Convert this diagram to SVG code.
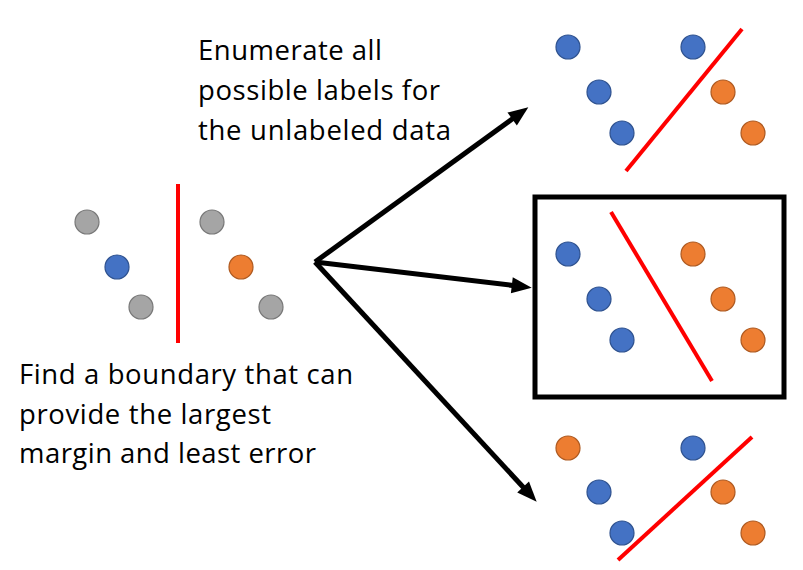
<svg xmlns="http://www.w3.org/2000/svg" width="803" height="570" viewBox="0 0 803 570">
<defs>
<style>
.b{fill:#4472C4;stroke:#2F528F;stroke-width:1.2}
.o{fill:#ED7D31;stroke:#AE5A21;stroke-width:1.2}
.g{fill:#A5A5A5;stroke:#787878;stroke-width:1.2}
.r{stroke:#FF0000;stroke-width:4;fill:none}
.a{stroke:#000;stroke-width:5;fill:none;marker-end:url(#ah)}
.t{font-family:"Open Sans","Noto Sans",sans-serif;font-size:27.5px;fill:#000}
</style>
<marker id="ah" markerUnits="userSpaceOnUse" orient="auto" markerWidth="20" markerHeight="16" refX="5" refY="8" overflow="visible">
<path d="M0,0 L20,8 L0,16 z" fill="#000"/>
</marker>
</defs>
<rect width="803" height="570" fill="#fff"/>
<g id="text-top">
<text class="t" x="198" y="60" textLength="184">Enumerate all</text>
<text class="t" x="198" y="100" textLength="242">possible labels for</text>
<text class="t" x="198" y="140" textLength="253">the unlabeled data</text>
</g>
<g id="text-bottom">
<text class="t" x="19" y="384" textLength="334">Find a boundary that can</text>
<text class="t" x="19" y="424" textLength="252">provide the largest</text>
<text class="t" x="19" y="463" textLength="297">margin and least error</text>
</g>
<g id="source">
<circle class="g" cx="87" cy="222" r="12"/>
<circle class="b" cx="117" cy="267" r="12"/>
<circle class="g" cx="141" cy="307" r="12"/>
<line class="r" x1="178" y1="184" x2="178" y2="343"/>
<circle class="g" cx="212" cy="222" r="12"/>
<circle class="o" cx="241" cy="267" r="12"/>
<circle class="g" cx="271" cy="307" r="12"/>
</g>
<g id="option-top">
<circle class="b" cx="568" cy="47" r="12"/>
<circle class="b" cx="599" cy="92" r="12"/>
<circle class="b" cx="622" cy="133" r="12"/>
<circle class="b" cx="693" cy="47" r="12"/>
<circle class="o" cx="723" cy="92" r="12"/>
<circle class="o" cx="753" cy="133" r="12"/>
<line class="r" x1="626" y1="171" x2="742" y2="29"/>
</g>
<g id="option-middle">
<rect x="535" y="197" width="249" height="200" fill="none" stroke="#000" stroke-width="5"/>
<circle class="b" cx="568" cy="254" r="12"/>
<circle class="b" cx="599" cy="299" r="12"/>
<circle class="b" cx="622" cy="340" r="12"/>
<circle class="o" cx="693" cy="254" r="12"/>
<circle class="o" cx="723" cy="299" r="12"/>
<circle class="o" cx="753" cy="340" r="12"/>
<line class="r" x1="611" y1="212" x2="712" y2="381"/>
</g>
<g id="option-bottom">
<circle class="o" cx="568" cy="448" r="12"/>
<circle class="b" cx="599" cy="492" r="12"/>
<circle class="b" cx="622" cy="533" r="12"/>
<circle class="b" cx="693" cy="448" r="12"/>
<circle class="o" cx="723" cy="492" r="12"/>
<circle class="o" cx="753" cy="533" r="12"/>
<line class="r" x1="618" y1="560" x2="752" y2="437"/>
</g>
<g id="connectors">
<line class="a" x1="315" y1="262" x2="516.2" y2="116.1"/>
<line class="a" x1="315" y1="262" x2="516.8" y2="285.9"/>
<line class="a" x1="315" y1="262" x2="526.5" y2="490.7"/>
</g>
</svg>
